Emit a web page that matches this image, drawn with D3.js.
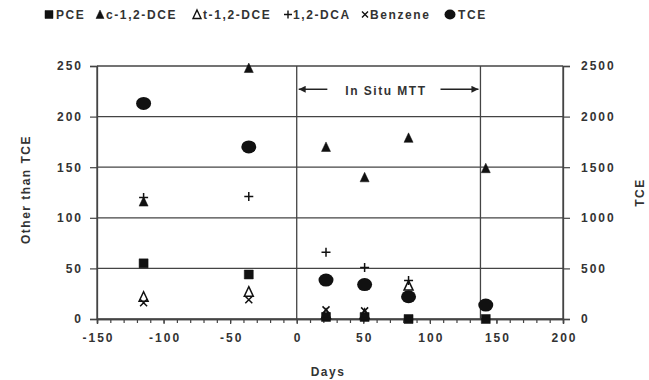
<!doctype html>
<html>
<head>
<script src="https://cdnjs.cloudflare.com/ajax/libs/d3/7.8.5/d3.min.js"></script>
<style>
  body { margin: 0; background: #fff; }
  svg text { font-family: "Liberation Sans", Arial, sans-serif; font-weight: bold; fill: #333; }
  .tick text { font-size: 12px; letter-spacing: 2px; }
  .grid { stroke: #444; stroke-width: 1.3px; }
</style>
</head>
<body>
<svg id="chart" width="649" height="380"></svg>
<script>
  // sampling days and concentrations
  var days     = [-115, -36, 22, 51, 84, 142];
  var pce      = [55, 44, 2, 2, 0, 0];
  var cDCE     = [116, 248, 170, 140, 179, 149];
  var tDCE     = [22, 27, 5, 5, 33, null];
  var dca      = [120, 121, 66, 51, 38, null];
  var benzene  = [16, 19, 9, 8, null, null];
  var tce      = [2130, 1700, 385, 340, 220, 138];

  var leftTicks  = [0, 50, 100, 150, 200, 250];
  var rightTicks = [0, 500, 1000, 1500, 2000, 2500];
  var xTicks     = [-150, -100, -50, 0, 50, 100, 150, 200];
  var mttStart = 0, mttEnd = 138;

  var margin = {top: 66, right: 86, bottom: 61, left: 97};
  var svg = d3.select("#chart");
  var W = 649 - margin.left - margin.right,
      H = 380 - margin.top - margin.bottom;
  var g = svg.append("g").attr("transform", "translate(" + margin.left + "," + margin.top + ")");

  var x = d3.scaleLinear().domain([-150, 200]).range([0, W]);
  var y = d3.scaleLinear().domain([0, 250]).range([H, 0]);
  var y2 = d3.scaleLinear().domain([0, 2500]).range([H, 0]);

  // horizontal grid lines
  g.selectAll("line.hgrid").data(leftTicks).enter().append("line")
    .attr("class", "grid")
    .attr("x1", 0).attr("x2", W)
    .attr("y1", d => y(d)).attr("y2", d => y(d));

  // vertical borders + MTT bounds
  [-150, 200, mttStart, mttEnd].forEach(v => {
    g.append("line").attr("class", "grid")
      .attr("x1", x(v)).attr("x2", x(v)).attr("y1", 0).attr("y2", H);
  });

  // axes
  var yl = g.append("g").call(d3.axisLeft(y).tickValues(leftTicks).tickSize(7).tickPadding(7));
  var yr = g.append("g").attr("transform", "translate(" + W + ",0)")
    .call(d3.axisRight(y2).tickValues(rightTicks).tickSize(7).tickPadding(11).tickFormat(d3.format("d")));
  var xMinor = g.append("g").attr("transform", "translate(0," + H + ")")
    .call(d3.axisBottom(x).tickValues(d3.range(-150, 201, 10)).tickSize(4).tickFormat(""));
  var xa = g.append("g").attr("transform", "translate(0," + H + ")")
    .call(d3.axisBottom(x).tickValues(xTicks).tickSize(5).tickPadding(9)
      .tickFormat(d => d < 0 ? "-" + Math.abs(d) : d));
  [yl, yr, xMinor, xa].forEach(a => {
    a.selectAll(".domain").attr("stroke", "#444").attr("stroke-width", 1.3);
    a.selectAll(".tick line").attr("stroke", "#444").attr("stroke-width", 1.2);
    a.selectAll("text").attr("font-family", null).attr("font-size", null).attr("fill", null);
  });
  xa.selectAll("text").attr("dx", "1px");

  // axis titles
  svg.append("text").attr("transform", "translate(30," + (margin.top + H / 2 - 3) + ") rotate(-90)")
    .attr("text-anchor", "middle").attr("font-size", 12).attr("letter-spacing", "1.5px").text("Other than TCE");
  svg.append("text").attr("transform", "translate(644," + (margin.top + H / 2) + ") rotate(-90)")
    .attr("text-anchor", "middle").attr("font-size", 12).attr("letter-spacing", "1.5px").text("TCE");
  svg.append("text").attr("x", 328).attr("y", 376)
    .attr("text-anchor", "middle").attr("font-size", 12).attr("letter-spacing", "1.5px").text("Days");

  // In Situ MTT annotation
  svg.append("defs").append("marker").attr("id", "ah")
    .attr("viewBox", "0 -5 10 10").attr("refX", 10).attr("refY", 0)
    .attr("markerWidth", 10).attr("markerHeight", 7).attr("markerUnits", "userSpaceOnUse")
    .attr("orient", "auto")
    .append("path").attr("d", "M0,-5L10,0L0,5Z").attr("fill", "#222");
  var annY = y(227);
  g.append("line").attr("x1", x(23)).attr("x2", x(mttStart) + 2).attr("y1", annY).attr("y2", annY)
    .attr("stroke", "#222").attr("stroke-width", 1.5).attr("marker-end", "url(#ah)");
  g.append("line").attr("x1", x(108)).attr("x2", x(mttEnd) - 2).attr("y1", annY).attr("y2", annY)
    .attr("stroke", "#222").attr("stroke-width", 1.5).attr("marker-end", "url(#ah)");
  g.append("text").attr("x", x(67)).attr("y", annY + 6).attr("text-anchor", "middle")
    .attr("font-size", 12).attr("letter-spacing", "1.5px").text("In Situ MTT");

  // marker shapes
  function shape(type, s) {
    var h = s / 2;
    if (type === "square") return "M" + -h + "," + -h + "H" + h + "V" + h + "H" + -h + "Z";
    if (type === "tri") return "M0," + (-h - 0.5) + "L" + h + "," + (h) + "L" + -h + "," + h + "Z";
    if (type === "plus") return "M" + -h + ",0H" + h + "M0," + -h + "V" + h;
    if (type === "x") return "M" + -h + "," + -h + "L" + h + "," + h + "M" + h + "," + -h + "L" + -h + "," + h;
    return "";
  }

  var series = [
    {name: "PCE", vals: pce, type: "square", size: 9, fill: "#111", scale: y},
    {name: "c-1,2-DCE", vals: cDCE, type: "tri", size: 9, fill: "#111", scale: y},
    {name: "t-1,2-DCE", vals: tDCE, type: "tri", size: 9, fill: "none", scale: y},
    {name: "1,2-DCA", vals: dca, type: "plus", size: 9, fill: "none", scale: y},
    {name: "Benzene", vals: benzene, type: "x", size: 7, fill: "none", scale: y},
    {name: "TCE", vals: tce, type: "circle", size: 0, fill: "#111", scale: y2}
  ];

  series.forEach(s => {
    var pts = days.map((d, i) => ({d: d, v: s.vals[i]})).filter(p => p.v != null);
    if (s.type === "circle") {
      g.selectAll(null).data(pts).enter().append("ellipse")
        .attr("cx", p => x(p.d)).attr("cy", p => s.scale(p.v))
        .attr("rx", 7.5).attr("ry", 6.5).attr("fill", s.fill);
    } else {
      g.selectAll(null).data(pts).enter().append("path")
        .attr("transform", p => "translate(" + x(p.d) + "," + s.scale(p.v) + ")")
        .attr("d", shape(s.type, s.size))
        .attr("fill", s.fill).attr("stroke", "#111")
        .attr("stroke-width", s.fill === "none" ? 1.5 : 0.5);
    }
  });

  // legend
  var legMark = [49, 100, 197, 288, 365, 450];
  var legText = [56, 106, 203, 293, 370, 458];
  var leg = svg.append("g").attr("transform", "translate(0,19)");
  series.forEach((s, i) => {
    if (s.type === "circle") {
      leg.append("ellipse").attr("cx", legMark[i]).attr("cy", -4.5).attr("rx", 5.5).attr("ry", 5).attr("fill", "#111");
    } else {
      leg.append("path").attr("transform", "translate(" + legMark[i] + ",-4.5)")
        .attr("d", shape(s.type, s.type === "x" ? 6 : 8))
        .attr("fill", s.fill).attr("stroke", "#111")
        .attr("stroke-width", s.fill === "none" ? 1.4 : 0.5);
    }
    leg.append("text").attr("x", legText[i]).attr("y", 0)
      .attr("font-size", 12).attr("letter-spacing", "1.6px").text(s.name);
  });
</script>
</body>
</html>
